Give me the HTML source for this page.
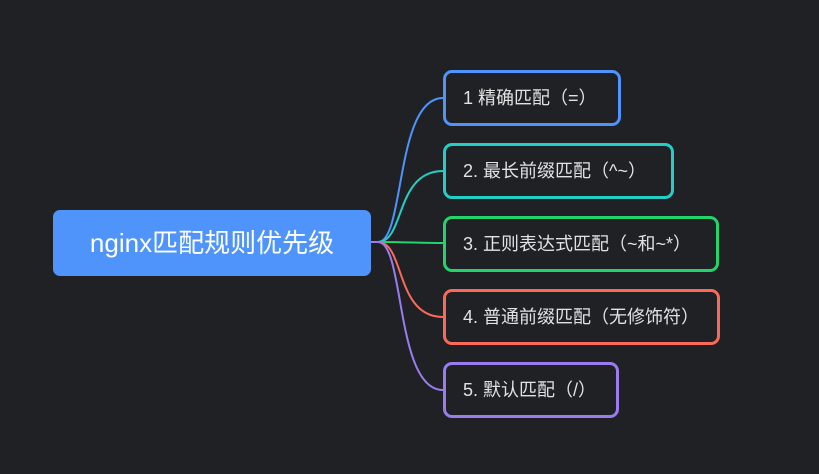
<!DOCTYPE html>
<html><head><meta charset="utf-8"><style>
html,body{margin:0;padding:0;background:#202125;}
body{width:819px;height:474px;position:relative;overflow:hidden;font-family:"Liberation Sans","Noto Sans CJK SC",sans-serif;}
.root{position:absolute;left:53px;top:210px;width:318px;height:66px;background:#4e94fa;border-radius:7px;color:#fff;font-size:26px;line-height:66px;text-align:center;}
.n{position:absolute;left:443px;box-sizing:border-box;height:56px;border:3px solid;border-radius:9px;color:#e2e2e2;font-size:18px;line-height:50px;padding-left:17px;white-space:nowrap;}
svg{position:absolute;left:0;top:0;}
</style></head><body>
<svg width="819" height="474" fill="none" stroke-width="2">
<path d="M371 242 L378 242 C 405 242, 395 98, 443 98" stroke="#4e94fa"/>
<path d="M371 242 L378 242 C 405 242, 395 171, 443 171" stroke="#22cfc7"/>
<path d="M371 242 L378 242 C 405 242, 420 243, 443 243" stroke="#22d46b"/>
<path d="M371 242 L378 242 C 405 242, 395 317, 443 317" stroke="#fb6a58"/>
<path d="M371 242 L378 242 C 405 242, 395 390, 443 390" stroke="#9a7cf0"/>
</svg>
<div class="root">nginx匹配规则优先级</div>
<div class="n" style="top:70px;width:178px;border-color:#4e94fa">1 精确匹配（=）</div>
<div class="n" style="top:143px;width:231px;border-color:#22cfc7">2. 最长前缀匹配（^~）</div>
<div class="n" style="top:216px;width:276px;border-color:#22d46b">3. 正则表达式匹配（~和~*）</div>
<div class="n" style="top:289px;width:277px;border-color:#fb6a58">4. 普通前缀匹配（无修饰符）</div>
<div class="n" style="top:362px;width:176px;border-color:#9a7cf0">5. 默认匹配（/）</div>
</body></html>
